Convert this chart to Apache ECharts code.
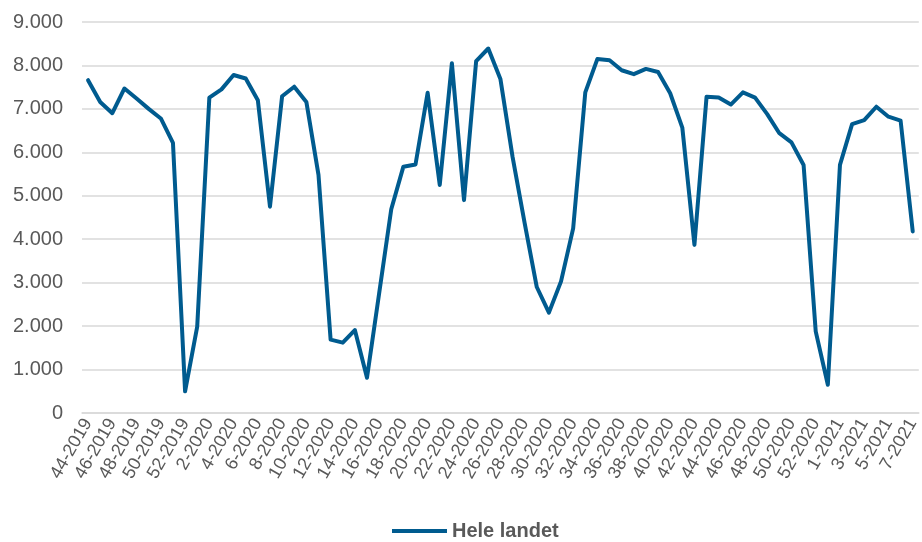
<!DOCTYPE html>
<html>
<head>
<meta charset="utf-8">
<script src="https://cdn.jsdelivr.net/npm/echarts@6/dist/echarts.min.js"></script>
<style>
html,body{margin:0;padding:0;background:#fff;}
#chart{width:922px;height:542px;}
</style>
</head>
<body>
<div id="chart"></div>
<script>
const weeks2019 = [44,45,46,47,48,49,50,51,52];
const weeks2020 = [1,2,3,4,5,6,7,8,9,10,11,12,13,14,15,16,17,18,19,20,21,22,23,24,25,26,27,28,29,30,31,32,33,34,35,36,37,38,39,40,41,42,43,44,45,46,47,48,49,50,51,52,53];
const weeks2021 = [1,2,3,4,5,6,7];
const categories = [].concat(
  weeks2019.map(w => w + '-2019'),
  weeks2020.map(w => w + '-2020'),
  weeks2021.map(w => w + '-2021')
);
const seriesName = 'Hele landet';
const values = [
  7660, 7160, 6900, 7470, 7240, 7000, 6780, 6220, 500,
  1990, 7260, 7450, 7780, 7700, 7200, 4750, 7290, 7510, 7160,
  5480, 1690, 1620, 1910, 810, 2750, 4690, 5670, 5720, 7370,
  5250, 8050, 4900, 8100, 8390, 7690, 5900, 4370, 2900, 2310,
  3030, 4250, 7380, 8150, 8120, 7890, 7800, 7920, 7850, 7360,
  6570, 3870, 7280, 7260, 7100, 7380, 7260, 6880, 6440, 6230,
  5710, 1880, 650,
  5710, 6650, 6740, 7050, 6820, 6730, 4180
];
const yTicks = [0, 1000, 2000, 3000, 4000, 5000, 6000, 7000, 8000, 9000];

const chart = echarts.init(document.getElementById('chart'));
const fmt = v => String(v).replace(/\B(?=(\d{3})+(?!\d))/g, '.');
const FONT = 'Liberation Sans, Arial, sans-serif';
chart.setOption({
  animation: false,
  textStyle: { fontFamily: FONT },
  grid: { left: 82, right: 0, top: 22, bottom: 129 },
  legend: {
    data: [seriesName],
    top: 521,
    left: 392,
    padding: 0,
    icon: 'rect',
    itemWidth: 55,
    itemHeight: 4,
    textStyle: { color: '#595959', fontSize: 20, fontWeight: 'bold', fontFamily: FONT }
  },
  xAxis: {
    type: 'category',
    data: categories,
    boundaryGap: true,
    axisLine: { show: true, lineStyle: { color: '#d9d9d9', width: 1.5 } },
    axisTick: { show: false },
    axisLabel: {
      interval: 1,
      rotate: 60,
      margin: 7,
      color: '#595959',
      fontSize: 18,
      fontFamily: FONT
    }
  },
  yAxis: {
    type: 'value',
    min: yTicks[0],
    max: yTicks[yTicks.length - 1],
    interval: 1000,
    axisLine: { show: false },
    axisTick: { show: false },
    splitLine: { lineStyle: { color: '#d9d9d9', width: 1.5 } },
    axisLabel: {
      margin: 19,
      color: '#595959',
      fontSize: 20,
      fontFamily: FONT,
      formatter: v => fmt(v)
    }
  },
  series: [{
    name: seriesName,
    type: 'line',
    data: values,
    symbol: 'none',
    lineStyle: { color: '#005b8f', width: 4, join: 'round', cap: 'round' },
    itemStyle: { color: '#005b8f' }
  }]
});
</script>
</body>
</html>
